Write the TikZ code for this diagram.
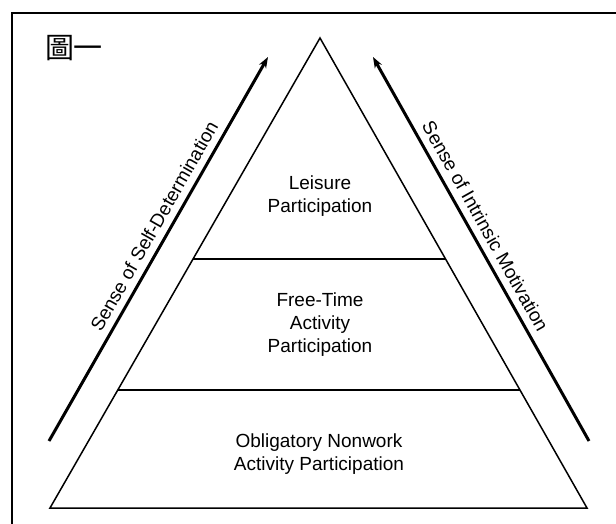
\documentclass[tikz,border=0pt]{standalone}
\usepackage{fontspec}
\setmainfont{Liberation Sans}
\newfontfamily\cjkfont{Noto Sans CJK TC}
\usetikzlibrary{calc,arrows.meta}

\begin{document}
\begin{tikzpicture}[x=1pt,y=-1pt,
	tiertext/.style={font=\fontsize{19}{23}\selectfont, align=center, inner sep=0pt},
	sidearrow/.style={line width=3pt, -{Stealth[length=11pt,width=8pt]}},
	sidelabel/.style={font=\fontsize{19}{23}\selectfont, inner sep=0pt, sloped}]
	\useasboundingbox (0,0) rectangle (616,524);
	\draw[line width=2.5pt] (12,530) -- (12,13) -- (620,13);
	\node[font=\cjkfont\fontsize{29}{29}\selectfont, inner sep=0pt] (title) at (74,48) {圖一};

	\coordinate (apex) at (320,38);
	\coordinate (bl) at (50,508);
	\coordinate (br) at (587,508);
	\draw[line width=1.5pt, line join=miter] (apex) -- (bl) -- (br) -- cycle;
	\draw[line width=2pt] ($(apex)!0.47!(bl)$) -- ($(apex)!0.47!(br)$);
	\draw[line width=2pt] ($(apex)!0.749!(bl)$) -- ($(apex)!0.749!(br)$);

	\node[tiertext] (leisure) at (320,196) {Leisure\\Participation};
	\node[tiertext] (freetime) at (320,325) {Free-Time\\Activity\\Participation};
	\node[tiertext] (nonwork) at (319,454) {Obligatory Nonwork\\Activity Participation};

	\coordinate (lfoot) at (49,441);
	\coordinate (ltip) at (268,57);
	\coordinate (rfoot) at (589,441);
	\coordinate (rtip) at (373,57);
	\draw[sidearrow] (lfoot) -- (ltip);
	\draw[sidearrow] (rfoot) -- (rtip);
	\path (lfoot) -- (ltip) node[sidelabel, pos=0.54, above=8pt] (selfdet) {Sense of Self-Determination};
	\path (rtip) -- (rfoot) node[sidelabel, pos=0.46, above=8pt] (intrinsic) {Sense of Intrinsic Motivation};
\end{tikzpicture}
\end{document}
